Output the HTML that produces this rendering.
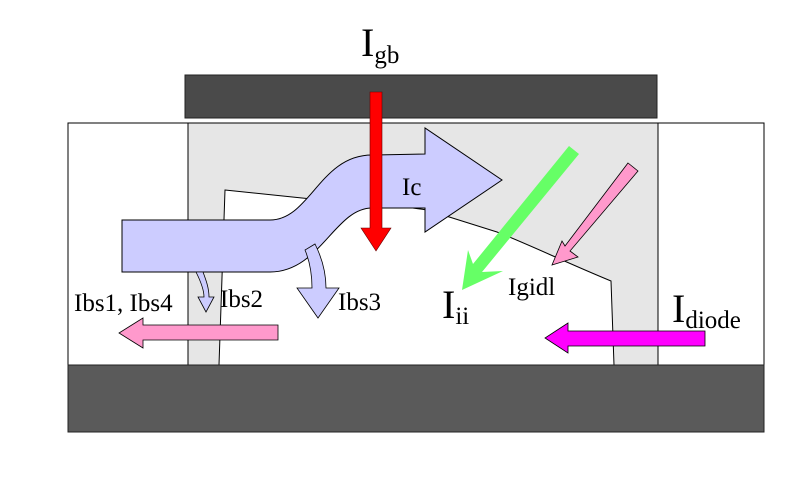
<!DOCTYPE html>
<html><head><meta charset="utf-8"><style>
html,body{margin:0;padding:0;background:#fff;width:803px;height:485px;overflow:hidden}
svg text{font-family:"Liberation Serif",serif;fill:#000}
</style></head><body>
<svg width="803" height="485" viewBox="0 0 803 485" xmlns="http://www.w3.org/2000/svg">
<rect x="68" y="123" width="696" height="242" fill="#fff" stroke="#000" stroke-width="1"/>
<rect x="188" y="123" width="470" height="242" fill="#e6e6e6" stroke="#000" stroke-width="1"/>
<path d="M225,190 L302,198 C340,202 380,203 427,210 L497,232 C530,245 565,262 611,281 L614,365 L219,365 Z" fill="#fff" stroke="#000" stroke-width="1"/>
<rect x="185" y="75" width="472" height="43" fill="#4a4a4a" stroke="#222" stroke-width="1"/>
<rect x="68" y="365" width="696" height="67" fill="#5a5a5a" stroke="#222" stroke-width="1"/>
<path d="M122,220 L270,220 C310,220 320,155 372,155 L425,154 L425,128 L502,180 L425,232 L425,208 L372,208 C335,208 320,272 270,272 L122,272 Z" fill="#ccccff" stroke="#000" stroke-width="1"/>
<path d="M196,272 C200,280 204,290 204,297 L198,297 L206,312 L214,297 L209,297 C209,288 206,280 203,272 Z" fill="#ccccff" stroke="#000" stroke-width="0.8"/>
<path d="M305,250 C310,262 312,275 312,288 L297,288 L318,318 L339,288 L326,288 C326,272 322,258 315,244 Z" fill="#ccccff" stroke="#000" stroke-width="0.8"/>
<path d="M370,92 L382,92 L382,228 L391,228 L376,251 L361,228 L370,228 Z" fill="#ff0000" stroke="#600" stroke-width="0.6"/>
<path d="M278,325 L278,340 L143,340 L143,348 L119,333 L143,318 L143,325 Z" fill="#ff99cc" stroke="#000" stroke-width="0.8"/>
<path d="M705,331 L705,346 L568,346 L568,353 L545,338 L568,323 L568,331 Z" fill="#ff00ff" stroke="#000" stroke-width="0.8"/>
<path d="M569,146 L579,154 L482,272 L503,271 L462,290 L468,250 L473,264 Z" fill="#66ff66"/>
<path d="M628,163 L638,171 L570,251 L578,257 L552,265 L562,241 L565,246 Z" fill="#ff99cc" stroke="#000" stroke-width="0.8"/>
<text x="361" y="56" font-size="40">I<tspan font-size="25" dy="7">gb</tspan></text>
<text x="402" y="195" font-size="25">Ic</text>
<text x="220" y="307" font-size="25">Ibs2</text>
<text x="338" y="310" font-size="25">Ibs3</text>
<text x="74" y="311" font-size="25">Ibs1, Ibs4</text>
<text x="508" y="295" font-size="25">Igidl</text>
<text x="442" y="318" font-size="40">I<tspan font-size="25" dy="6">ii</tspan></text>
<text x="672" y="322" font-size="40">I<tspan font-size="25" dy="6">diode</tspan></text>
</svg>
</body></html>
